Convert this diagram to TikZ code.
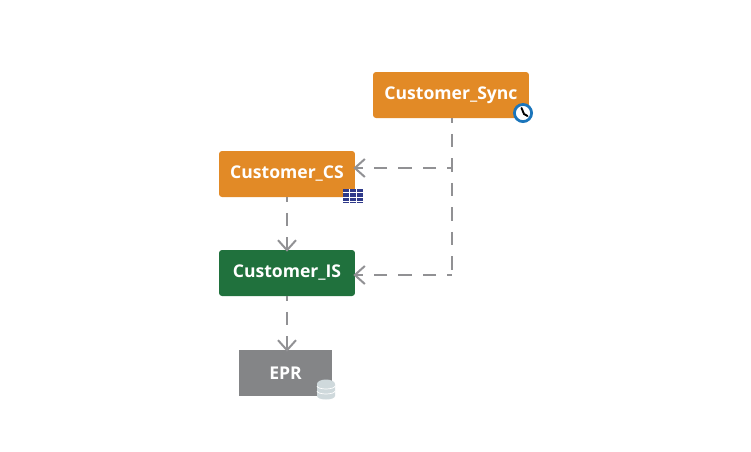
\documentclass[tikz,border=0pt]{standalone}
\usepackage{fontspec}
\setmainfont{Open Sans}
\usetikzlibrary{positioning, calc, arrows.meta}

\definecolor{syncOrange}{HTML}{E28A26}
\definecolor{isGreen}{HTML}{20713D}
\definecolor{eprGray}{HTML}{848587}
\definecolor{linkGray}{HTML}{919194}
\definecolor{clockBlue}{HTML}{1B75BB}
\definecolor{gridBlue}{HTML}{2F3A8A}
\definecolor{dbGray}{HTML}{CFD9DC}

\tikzset{
	service/.style = {minimum height = 0.92cm, inner sep = 0pt, text = white, font = \fontsize{10}{12}\selectfont\bfseries},
	roundbox/.style = {service, rounded corners = 0.06cm, minimum width = 2.72cm},
	link/.style = {draw = linkGray, line width = 0.032cm, dash pattern = on 0.27cm off 0.22cm, dash phase = 0.18cm, shorten >= -0.04cm, -{Straight Barb[length = 0.2cm, width = 0.36cm, line width = 0.04cm]}}
}

\begin{document}
\begin{tikzpicture}[x = 0.02cm, y = -0.02cm]
	\useasboundingbox (0, 0) rectangle (751, 451);

	\node[roundbox, fill = syncOrange, minimum width = 3.12cm] (sync) at (451, 95) {Customer\_Sync};
	\node[roundbox, fill = syncOrange] (cs) at (287, 174) {Customer\_CS};
	\node[roundbox, fill = isGreen] (is) at (287, 273) {Customer\_IS};
	\node[service, fill = eprGray, minimum width = 1.86cm] (epr) at (285.5, 373) {EPR};

	\coordinate (branch) at (451.7, 168);
	\coordinate (corner) at (451.7, 275);

	% links
	\draw[link, -, shorten >= 0pt] (sync.south -| corner) -- (corner);
	\draw[link] (branch) -- (cs.east |- branch);
	\draw[link] (corner) -- (is.east |- corner);
	\draw[link] (cs.south) -- (is.north);
	\draw[link] (is.south) -- (is.south |- epr.north);

	% clock
	\draw[clockBlue, line width = 0.055cm, fill = white] (523, 113) circle[radius = 8.6];
	\draw[black, line width = 0.038cm, line cap = round] (521.5, 108) -- (524, 114) -- (527.5, 116);

	% table
	\fill[gridBlue] (343, 189) rectangle (363, 203);
	\foreach \y in {192.5, 197, 201} {
		\draw[white, line width = 0.012cm] (343, \y) -- (363, \y);
	}
	\foreach \x in {349.5, 356} {
		\draw[white, line width = 0.016cm] (\x, 189) -- (\x, 203);
	}

	% database
	\fill[dbGray] (317, 384) -- (317, 396) arc[start angle = 180, end angle = 0, x radius = 9, y radius = 3.5] -- (335, 384) arc[start angle = 0, end angle = -180, x radius = 9, y radius = 4.5] -- cycle;
	\foreach \y in {386, 391} {
		\draw[white, line width = 0.014cm] (317, \y) arc[start angle = 180, end angle = 0, x radius = 9, y radius = 3];
	}
\end{tikzpicture}
\end{document}
